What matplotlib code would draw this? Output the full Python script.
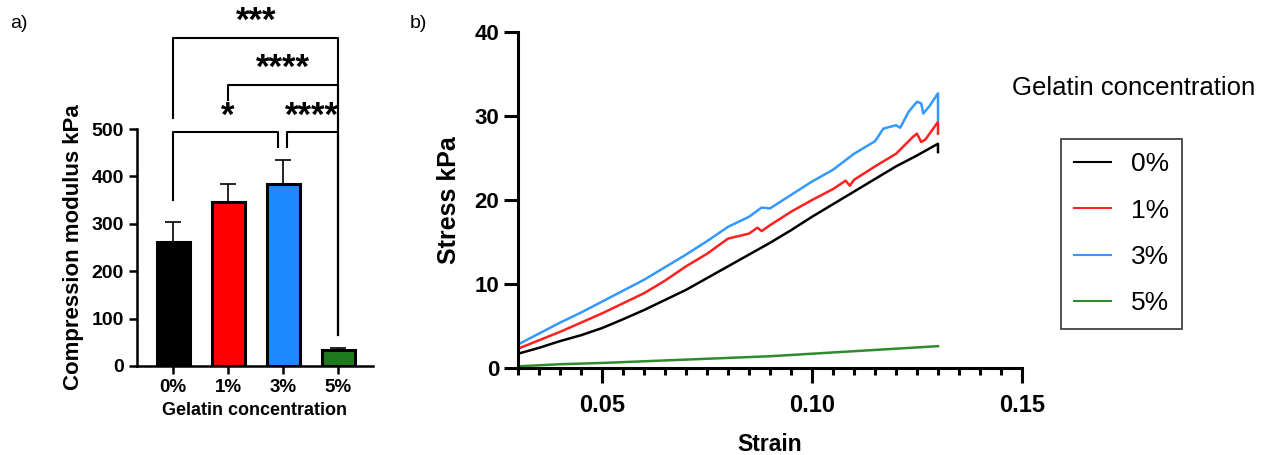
import matplotlib
matplotlib.use("Agg")
import matplotlib.pyplot as plt
from matplotlib.lines import Line2D

# Panel a data: compression modulus (kPa)
groups = ["0%", "1%", "3%", "5%"]
modulus = [262, 347, 383, 33]
modulus_err = [42, 37, 51, 4]
bar_colors = ["#000000", "#FF0000", "#1E88FF", "#1E7A1E"]

# significance brackets: (left group, right group, label)
brackets = [(0, 2, "*"), (2, 3, "****"), (1, 3, "****"), (0, 3, "***")]

# Panel b data: stress-strain curves (stress in kPa)
strain_0 = [0.03, 0.035, 0.04, 0.045, 0.05, 0.055, 0.06, 0.065, 0.07, 0.075, 0.08,
            0.085, 0.09, 0.095, 0.10, 0.105, 0.11, 0.115, 0.12, 0.125, 0.13, 0.13]
stress_0 = [1.7, 2.4, 3.2, 3.9, 4.75, 5.8, 6.9, 8.1, 9.3, 10.7, 12.1,
            13.5, 14.9, 16.4, 18.0, 19.5, 21.0, 22.5, 24.0, 25.3, 26.7, 25.7]

strain_1 = [0.03, 0.035, 0.04, 0.045, 0.05, 0.055, 0.06, 0.065, 0.07, 0.075, 0.08,
            0.085, 0.087, 0.088, 0.09, 0.095, 0.10, 0.105, 0.108, 0.109, 0.11,
            0.115, 0.12, 0.124, 0.125, 0.126, 0.127, 0.13, 0.13]
stress_1 = [2.3, 3.3, 4.3, 5.4, 6.5, 7.7, 8.9, 10.4, 12.1, 13.6, 15.4,
            16.0, 16.7, 16.3, 17.0, 18.6, 20.0, 21.3, 22.3, 21.7, 22.4,
            24.0, 25.5, 27.5, 27.9, 26.9, 27.2, 29.3, 27.9]

strain_3 = [0.03, 0.035, 0.04, 0.045, 0.05, 0.055, 0.06, 0.065, 0.07, 0.075, 0.08,
            0.085, 0.088, 0.09, 0.095, 0.10, 0.105, 0.11, 0.115, 0.117, 0.12,
            0.121, 0.123, 0.125, 0.126, 0.1265, 0.128, 0.13, 0.13]
stress_3 = [2.8, 4.1, 5.4, 6.6, 7.9, 9.2, 10.5, 12.0, 13.5, 15.1, 16.8,
            18.0, 19.1, 19.0, 20.6, 22.2, 23.6, 25.5, 27.0, 28.5, 28.9,
            28.6, 30.5, 31.7, 31.5, 30.3, 31.2, 32.7, 29.5]

strain_5 = [0.03, 0.04, 0.05, 0.06, 0.07, 0.08, 0.09, 0.10, 0.11, 0.12, 0.13]
stress_5 = [0.2, 0.45, 0.6, 0.8, 1.0, 1.2, 1.4, 1.7, 2.0, 2.3, 2.6]

curve_labels = ["0%", "1%", "3%", "5%"]
curve_colors = ["#000000", "#FF2020", "#3399FF", "#2E8B2E"]

plt.rcParams["font.family"] = ["Liberation Sans", "DejaVu Sans"]

W, H = 1272, 455
fig = plt.figure(figsize=(W / 100, H / 100), dpi=100)


def px_axes(left, top, right, bottom):
    # axes placed from pixel box
    return fig.add_axes([left / W, 1 - bottom / H, (right - left) / W, (bottom - top) / H])


# ---------- panel a ----------
ax1 = px_axes(137, 129, 373, 366)
x = range(len(groups))
ax1.bar(x, modulus, width=0.6, color=bar_colors, edgecolor="black", linewidth=2.2, zorder=2)
ax1.errorbar(x, modulus, yerr=[[0] * 4, modulus_err], fmt="none", ecolor="black",
             elinewidth=1.2, capsize=6, capthick=1.2, zorder=1)
ax1.set_xlim(-0.655, 3.636)
ax1.set_ylim(0, 500)
ax1.set_yticks([0, 100, 200, 300, 400, 500])
ax1.set_xticks(list(x))
ax1.set_xticklabels(groups)
for side in ["top", "right"]:
    ax1.spines[side].set_visible(False)
for side in ["left", "bottom"]:
    ax1.spines[side].set_linewidth(1.8)
ax1.tick_params(width=1.8, length=6, labelsize=14)
ax1.tick_params(axis="x", labelsize=13.5)
for lab in ax1.get_xticklabels() + ax1.get_yticklabels():
    lab.set_fontweight("bold")
ax1.set_ylabel("Compression modulus kPa", fontsize=16, fontweight="bold", labelpad=5)
ax1.set_xlabel("Gelatin concentration", fontsize=13, fontweight="bold", labelpad=4)

# bracket geometry (data units)
br_level = {(0, 2): 494, (2, 3): 494, (1, 3): 593, (0, 3): 692}
br_feet = {(0, 2): (350, 462), (2, 3): (462, 65), (1, 3): (561, 65), (0, 3): (523, 65)}
br_xs = {(0, 2): (0, 1.91), (2, 3): (2.07, 3), (1, 3): (1, 3), (0, 3): (0, 3)}
br_text = {(0, 2): (1.0, 507), (2, 3): (2.53, 507), (1, 3): (2.0, 607), (0, 3): (1.51, 707)}
for a, b, label in brackets:
    key = (a, b)
    x0, x1 = br_xs[key]
    f0, f1 = br_feet[key]
    lv = br_level[key]
    ax1.plot([x0, x0, x1, x1], [f0, lv, lv, f1], color="black", lw=1.5, clip_on=False)
    tx, ty = br_text[key]
    ax1.text(tx, ty, label, ha="center", va="baseline", fontsize=25, fontweight="bold")

fig.text(10 / W, 1 - 24 / H, "a)", fontsize=14, va="center", ha="left")

# ---------- panel b ----------
ax2 = px_axes(518, 32, 1022, 368)
strains = [strain_0, strain_1, strain_3, strain_5]
stresses = [stress_0, stress_1, stress_3, stress_5]
for sx, sy, c, lab in zip(strains, stresses, curve_colors, curve_labels):
    ax2.plot(sx, sy, color=c, lw=1.8, label=lab)
ax2.set_xlim(0.03, 0.15)
ax2.set_ylim(0, 40)
ax2.set_xticks([0.05, 0.10, 0.15])
ax2.set_xticklabels(["0.05", "0.10", "0.15"])
ax2.set_xticks([0.03 + 0.005 * i for i in range(25)], minor=True)
ax2.set_yticks([0, 10, 20, 30, 40])
for side in ["top", "right"]:
    ax2.spines[side].set_visible(False)
for side in ["left", "bottom"]:
    ax2.spines[side].set_linewidth(2.2)
ax2.tick_params(axis="y", width=2.2, length=10, labelsize=16)
ax2.tick_params(axis="x", which="major", width=2.2, length=11, labelsize=17, pad=8)
ax2.tick_params(axis="x", which="minor", width=2.2, length=5)
for lab in ax2.get_xticklabels() + ax2.get_yticklabels():
    lab.set_fontweight("bold")
ax2.set_ylabel("Stress kPa", fontsize=18, fontweight="bold", labelpad=10)
ax2.set_xlabel("Strain", fontsize=16.5, fontweight="bold", labelpad=11)

fig.text(410 / W, 1 - 24 / H, "b)", fontsize=14, va="center", ha="left")

handles = [Line2D([], [], color=c, lw=1.5) for c in curve_colors]
leg = fig.legend(handles, curve_labels, loc="upper left",
                 bbox_to_anchor=(1061 / W, 1 - 139 / H), fontsize=19,
                 frameon=True, fancybox=False, edgecolor="black",
                 handlelength=1.4, handletextpad=0.75, labelspacing=0.85,
                 borderpad=0.5, borderaxespad=0)
leg.get_frame().set_linewidth(1.2)
fig.text(1134 / W, 1 - 88 / H, "Gelatin concentration", fontsize=18.5,
         ha="center", va="center")

fig.savefig("out.png", dpi=100)
